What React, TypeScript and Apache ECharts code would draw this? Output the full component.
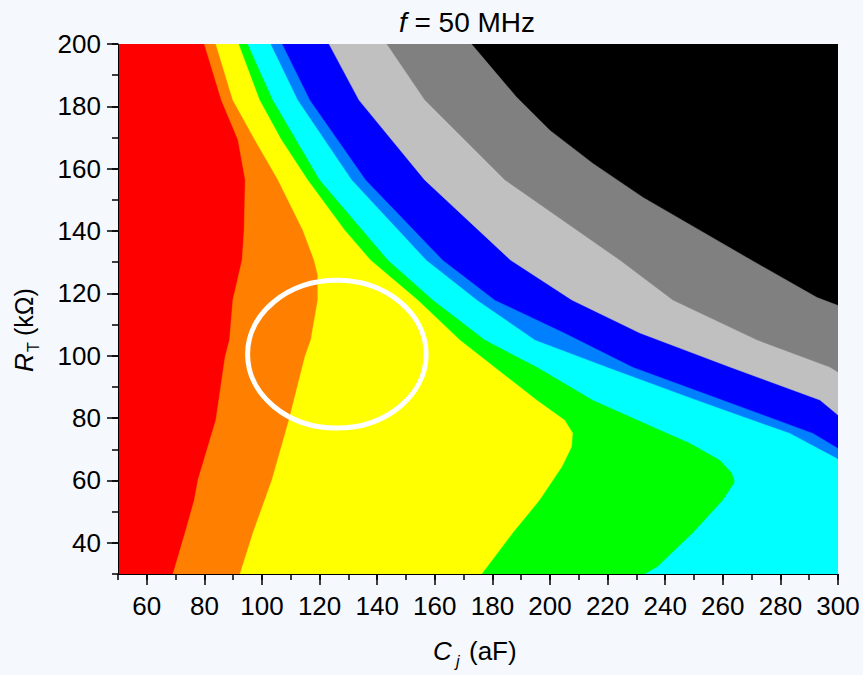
import React, { useEffect, useRef } from 'react';
import * as echarts from 'echarts';

// Axis tick labels
const xTickValues = [60, 80, 100, 120, 140, 160, 180, 200, 220, 240, 260, 280, 300];
const yTickValues = [40, 60, 80, 100, 120, 140, 160, 180, 200];

// Region colours (left/bottom region first)
const baseColor = '#ff0000';
const bandColors = ['#ff8000', '#ffff00', '#00ff00', '#00ffff', '#0080ff', '#0000ff', '#c0c0c0', '#808080', '#000000'];

// Boundaries between regions: [Cj (aF), RT (kOhm)], from the top edge downwards
const redOrange: number[][] = [[80.0, 200], [85.9, 182], [91.7, 169.2], [94.2, 156.4], [93.8, 140.3], [93.1, 130.7], [89.9, 117.9], [88.75, 105.1], [87.2, 99.6], [84.0, 79.4], [77.8, 60.2], [76.5, 53.7], [73.3, 43.2], [69.1, 30]];
const orangeYellow: number[][] = [[84.0, 200], [89.9, 182], [97.6, 169.2], [105.6, 156.4], [114.2, 140.3], [118.1, 130.7], [119.4, 125.9], [119.4, 117.9], [117.0, 105.1], [114.9, 99.6], [109.4, 79.4], [103.5, 60.2], [96.9, 43.2], [92.4, 30]];
const yellowGreen: number[][] = [[92.0, 200], [99.3, 182], [106.9, 169.2], [116.0, 156.4], [128.8, 140.3], [137.8, 130.7], [154.2, 117.9], [168.75, 105.1], [195.5, 85.8], [205.2, 79.4], [208.0, 75.2], [207.6, 70.7], [204.2, 64.3], [196.5, 53.7], [187.2, 43.2], [176.4, 30]];
const greenCyan: number[][] = [[95.1, 200], [103.8, 182], [120.1, 156.4], [143.75, 130.7], [159.4, 117.9], [177.4, 105.1], [195.5, 96.4], [214.9, 85.8], [235.8, 77.2], [248.6, 72.0], [259.0, 66.6], [263.2, 62.4], [264.2, 59.5], [260.1, 53.7], [249.7, 43.2], [237.2, 32.2], [233.0, 30]];
const cyanAzure: number[][] = [[103.1, 200], [112.5, 182], [131.25, 156.4], [157.1, 130.7], [174.7, 117.9], [194.8, 105.1], [219.8, 96.4], [251.0, 85.8], [283.3, 75.2], [300, 67.0]];
const azureBlue: number[][] = [[107.1, 200], [116.7, 182], [136.1, 156.4], [162.8, 130.7], [180.9, 117.9], [205.2, 107.3], [228.8, 96.4], [260.1, 85.8], [291.3, 75.2], [300, 70.4]];
const blueSilver: number[][] = [[123.3, 200], [133.7, 182], [156.5, 156.4], [186.3, 130.7], [207.6, 117.9], [231.25, 107.3], [262.5, 96.4], [293.75, 85.8], [300, 81.0]];
const silverGray: number[][] = [[143.4, 200], [156.6, 182], [184.4, 156.4], [224.3, 130.7], [242.7, 117.9], [271.9, 105.1], [297.2, 96.4], [300, 94.8]];
const grayBlack: number[][] = [[172.9, 200], [188.5, 183], [200.0, 172.4], [214.9, 161.8], [232.3, 150.9], [252.1, 140.3], [271.9, 129.75], [292.7, 118.85], [300, 116.3]];

const boundaries = [redOrange, orangeYellow, yellowGreen, greenCyan, cyanAzure, azureBlue, blueSilver, silverGray, grayBlack];

// Highlight ellipse: centre and half-axes in data units
const ellipseCenter = [126, 100.5];
const ellipseRadii = [31, 23.7];

const X_MIN = 50, X_MAX = 300, Y_MIN = 30, Y_MAX = 200;
const FONT = '"Liberation Sans", Arial, Helvetica, sans-serif';

function regionPolygon(i: number): number[][] {
  if (i === 0) return [[X_MIN, Y_MAX], [X_MIN, Y_MIN], [X_MAX, Y_MIN], [X_MAX, Y_MAX]];
  const b = boundaries[i - 1];
  const last = b[b.length - 1];
  const pts = b.slice();
  if (last[1] <= Y_MIN + 1e-6) pts.push([X_MAX, Y_MIN]);
  pts.push([X_MAX, Y_MAX]);
  return pts;
}

export default function App() {
  const ref = useRef<HTMLDivElement>(null);
  useEffect(() => {
    if (!ref.current) return;
    const chart = echarts.init(ref.current, undefined, { renderer: 'svg' });
    const colors = [baseColor, ...bandColors];
    const option: any = {
      animation: false,
      backgroundColor: '#f5f8fc',
      grid: { left: 118, right: 25, top: 44, bottom: 101, containLabel: false },
      xAxis: [
        {
          type: 'value', min: X_MIN, max: X_MAX, interval: 10, z: 5,
          axisLine: { show: true, onZero: false, lineStyle: { color: '#000', width: 1 } },
          axisTick: { show: true, length: 6, lineStyle: { color: '#000', width: 1.5 } },
          axisLabel: { color: '#000', fontSize: 26, fontFamily: FONT, margin: 19, formatter: (v: number) => (xTickValues.includes(v) ? String(v) : '') },
          splitLine: { show: false },
        },
        {
          type: 'value', min: X_MIN, max: X_MAX, position: 'bottom', z: 5,
          axisLine: { show: false },
          axisTick: { show: true, length: 11, customValues: xTickValues, lineStyle: { color: '#000', width: 1.5 } },
          axisLabel: { show: false },
          splitLine: { show: false },
        },
      ],
      yAxis: [
        {
          type: 'value', min: Y_MIN, max: Y_MAX, interval: 10, z: 5,
          axisLine: { show: true, onZero: false, lineStyle: { color: '#000', width: 1 } },
          axisTick: { show: true, length: 6, lineStyle: { color: '#000', width: 1.5 } },
          axisLabel: { color: '#000', fontSize: 26, fontFamily: FONT, margin: 17, formatter: (v: number) => (yTickValues.includes(v) ? String(v) : '') },
          splitLine: { show: false },
        },
        {
          type: 'value', min: Y_MIN, max: Y_MAX, position: 'left', z: 5,
          axisLine: { show: false },
          axisTick: { show: true, length: 11, customValues: yTickValues, lineStyle: { color: '#000', width: 1.5 } },
          axisLabel: { show: false },
          splitLine: { show: false },
        },
      ],
      series: [
        {
          type: 'custom', xAxisIndex: 0, yAxisIndex: 0, clip: true, silent: true,
          data: colors.map(() => [175, 115]),
          renderItem: (params: any, api: any) => {
            const i = params.dataIndex;
            const pts = regionPolygon(i).map((p) => api.coord(p));
            return { type: 'polygon', shape: { points: pts }, style: { fill: colors[i], stroke: colors[i], lineWidth: 0.5 } };
          },
        },
        {
          type: 'custom', xAxisIndex: 0, yAxisIndex: 0, clip: true, silent: true,
          data: [ellipseCenter],
          renderItem: (params: any, api: any) => {
            const c = api.coord(ellipseCenter);
            const s = api.size(ellipseRadii);
            return { type: 'ellipse', shape: { cx: c[0], cy: c[1], rx: s[0], ry: s[1] }, style: { fill: 'none', stroke: '#ffffff', lineWidth: 5 } };
          },
        },
      ],
      graphic: [
        {
          type: 'text', x: 467, y: 22, silent: true,
          style: { text: '{i|f} = 50 MHz', x: 0, y: 0, align: 'center', verticalAlign: 'middle', fill: '#000', font: `28px ${FONT}`, rich: { i: { fontStyle: 'italic', fontSize: 28, fontFamily: FONT, fill: '#000' } } },
        },
        { type: 'text', x: 433, y: 651, silent: true, style: { text: 'C', align: 'left', verticalAlign: 'middle', fill: '#000', font: `italic 26px ${FONT}` } },
        { type: 'text', x: 456, y: 661, silent: true, style: { text: 'j', align: 'left', verticalAlign: 'middle', fill: '#000', font: `italic 16px ${FONT}` } },
        { type: 'text', x: 469, y: 651, silent: true, style: { text: '(aF)', align: 'left', verticalAlign: 'middle', fill: '#000', font: `26px ${FONT}` } },
        {
          type: 'group', x: 24, y: 331, rotation: Math.PI / 2, silent: true,
          children: [
            { type: 'text', x: -41, y: 0, style: { text: 'R', align: 'left', verticalAlign: 'middle', fill: '#000', font: `italic 26px ${FONT}` } },
            { type: 'text', x: -21, y: 9, style: { text: 'T', align: 'left', verticalAlign: 'middle', fill: '#000', font: `16px ${FONT}` } },
            { type: 'text', x: -5, y: 0, style: { text: '(kΩ)', align: 'left', verticalAlign: 'middle', fill: '#000', font: `25px ${FONT}` } },
          ],
        },
      ],
    };
    chart.setOption(option);
    return () => chart.dispose();
  }, []);
  return <div ref={ref} style={{ position: 'absolute', left: 0, top: 0, width: 863, height: 675 }} />;
}
